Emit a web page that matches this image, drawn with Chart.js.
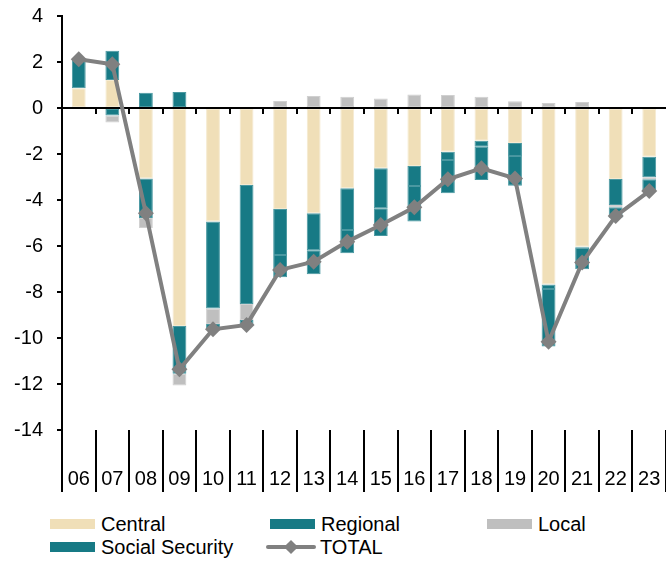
<!DOCTYPE html>
<html>
<head>
<meta charset="utf-8">
<script src="https://cdn.jsdelivr.net/npm/chart.js@4.4.0/dist/chart.umd.min.js"></script>
<style>
  body { margin:0; width:666px; height:562px; overflow:hidden; background:#fff; font-family:"Liberation Sans", Arial, sans-serif; }
  #contenedor { position:absolute; left:0; top:0; width:674px; height:500px; }
  .leyenda { position:absolute; height:24px; font-size:20px; line-height:24px; color:#000; white-space:nowrap; }
  .caja { position:absolute; left:0; top:7px; width:45px; height:10px; }
</style>
</head>
<body>
<div id="contenedor"><canvas id="grafico"></canvas></div>
<div id="leyenda"></div>
<script>
// datos (% del PIB)
const anios = ["06","07","08","09","10","11","12","13","14","15","16","17","18","19","20","21","22","23"];
const central = [0.86, 1.22, -3.06, -9.48, -4.94, -3.35, -4.39, -4.58, -3.49, -2.62, -2.52, -1.9, -1.42, -1.52, -7.67, -6.03, -3.09, -2.12];
const regional = [0, -0.33, -1.72, -2.07, -3.78, -5.17, -2.0, -1.6, -1.81, -1.74, -0.87, -0.36, -0.27, -0.57, -0.2, -0.05, -1.13, -0.89];
const local = [0, -0.3, -0.44, -0.51, -0.67, -0.7, 0.3, 0.52, 0.49, 0.41, 0.59, 0.57, 0.49, 0.29, 0.22, 0.26, -0.1, -0.09];
const seguridadSocial = [1.24, 1.27, 0.66, 0.7, -0.23, -0.21, -0.97, -1.05, -1.02, -1.21, -1.55, -1.45, -1.44, -1.29, -2.5, -0.93, -0.45, -0.52];
const total = [2.12, 1.9, -4.58, -11.36, -9.62, -9.43, -7.04, -6.68, -5.81, -5.09, -4.32, -3.1, -2.62, -3.06, -10.16, -6.72, -4.7, -3.61];
const ticksY = [-14, -12, -10, -8, -6, -4, -2, 0, 2, 4];

const BEIGE = "#F0DFB8";
const TEAL = "#177A85";
const GRIS = "#BFBFBF";
const LINEA = "#808080";
const fuente = { family: "'Liberation Sans', Arial, sans-serif", size: 20 };

function barra(nombre, datos, color, borde) {
  return {
    type: "bar", label: nombre, data: datos, stack: "barras", order: 1,
    backgroundColor: color, borderColor: borde, borderWidth: 1, borderSkipped: false,
    barPercentage: 0.413, categoryPercentage: 1
  };
}

// marcas pequeñas sobre la linea del cero
const marcasCero = {
  id: "marcasCero",
  beforeDatasetsDraw(chart) {
    const { ctx, scales: { x, y } } = chart;
    const y0 = y.getPixelForValue(0);
    const ancho = x.width / anios.length;
    ctx.save();
    ctx.strokeStyle = "#000";
    ctx.lineWidth = 2;
    ctx.beginPath();
    for (let i = 1; i < anios.length; i++) {
      const px = Math.round(x.left + i * ancho);
      ctx.moveTo(px, y0);
      ctx.lineTo(px, y0 + 6);
    }
    ctx.stroke();
    ctx.restore();
  }
};

const grafica = new Chart(document.getElementById("grafico"), {
  data: {
    labels: anios,
    datasets: [
      barra("Central", central, BEIGE, "#F5EAD0"),
      barra("Regional", regional, TEAL, "#4A98A1"),
      barra("Local", local, GRIS, "#D0D0D0"),
      barra("Social Security", seguridadSocial, TEAL, "#4A98A1"),
      {
        type: "line", label: "TOTAL", data: total, stack: "linea", order: 0,
        borderColor: LINEA, borderWidth: 4, tension: 0,
        pointStyle: "rectRot", pointRadius: 8, pointBackgroundColor: LINEA, pointBorderWidth: 0
      }
    ]
  },
  options: {
    responsive: true,
    maintainAspectRatio: false,
    animation: false,
    layout: { padding: { left: 14, top: 16, right: 1, bottom: 8 } },
    plugins: { legend: { display: false }, tooltip: { enabled: false } },
    scales: {
      x: {
        stacked: true,
        offset: true,
        grid: { offset: true, drawOnChartArea: false, tickLength: 62, color: "#000", lineWidth: 2 },
        border: { display: false },
        ticks: { font: fuente, color: "#000", padding: -25, maxRotation: 0, autoSkip: false },
        afterFit: (eje) => { eje.height = 62; eje.paddingLeft = 0; eje.paddingRight = 0; }
      },
      y: {
        stacked: true,
        min: ticksY[0],
        max: ticksY[ticksY.length - 1],
        afterBuildTicks: (eje) => { eje.ticks = ticksY.map(v => ({ value: v })); },
        grid: {
          color: (c) => c.tick && c.tick.value === 0 ? "#000" : "rgba(0,0,0,0)",
          lineWidth: 2, tickColor: "#000", tickLength: 5, tickWidth: 2
        },
        border: { color: "#000", width: 2 },
        ticks: { font: fuente, color: "#000", padding: 14 },
        afterFit: (eje) => { eje.width = 48; eje.paddingTop = 0; eje.paddingBottom = 0; }
      }
    }
  },
  plugins: [marcasCero]
});

// leyenda en html, dos filas
const posLeyenda = [[50, 512], [270, 512], [487, 512], [50, 535], [266, 535]];
const leyenda = document.getElementById("leyenda");
grafica.data.datasets.forEach((ds, i) => {
  const item = document.createElement("div");
  item.className = "leyenda";
  item.style.left = posLeyenda[i][0] + "px";
  item.style.top = posLeyenda[i][1] + "px";
  if (ds.type === "line") {
    item.innerHTML = '<div style="position:absolute;left:0;top:10px;width:50px;height:4px;border-radius:2px;background:' + ds.borderColor + '"></div>' +
      '<div style="position:absolute;left:20px;top:7px;width:10px;height:10px;transform:rotate(45deg);background:' + ds.borderColor + '"></div>' +
      '<span style="position:absolute;left:54px;top:0">' + ds.label + '</span>';
  } else {
    item.innerHTML = '<div class="caja" style="background:' + ds.backgroundColor + '"></div>' +
      '<span style="position:absolute;left:51px;top:0">' + ds.label + '</span>';
  }
  leyenda.appendChild(item);
});
</script>
</body>
</html>
